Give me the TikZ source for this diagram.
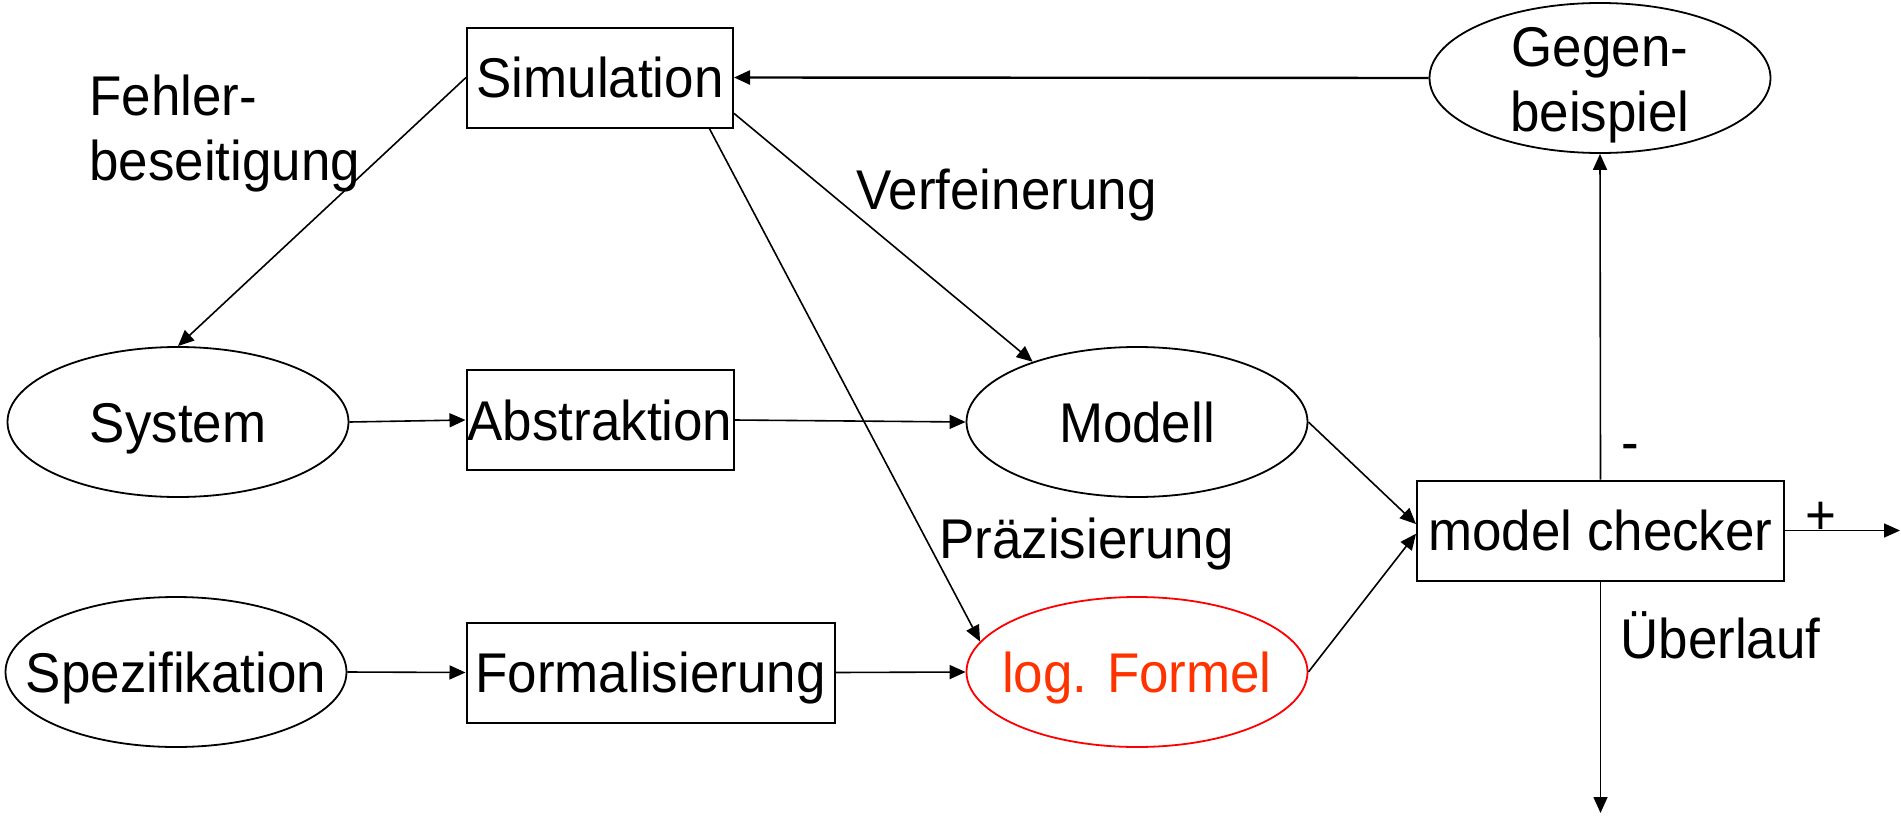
\documentclass[tikz,border=0pt]{standalone}
\usepackage{fontspec}
\setmainfont{Liberation Sans}[FakeStretch=0.945]
\usetikzlibrary{arrows.meta,shapes.geometric}
\definecolor{formelline}{RGB}{255,0,0}
\definecolor{formeltext}{RGB}{255,51,0}
\begin{document}
\begin{tikzpicture}[x=0.5pt,y=-0.5pt,
  every node/.style={font=\fontsize{28pt}{32.5pt}\selectfont},
  box/.style={draw, line width=1pt, rectangle, inner sep=0pt, text height=20pt, text depth=0pt, minimum height=50pt},
  oval/.style={draw, line width=0.9pt, ellipse, inner sep=0pt, text height=20pt, text depth=0pt, minimum width=170.5pt, minimum height=75pt},
  lbl/.style={inner sep=0pt, anchor=base west},
  conn/.style={line width=0.8pt, -{Triangle[length=8pt,width=7pt]}},
]
\useasboundingbox (0,0) rectangle (1901,819);

% process boxes
\node[box, minimum width=133pt] (sim) at (600,77.5) {Simulation};
\node[box, minimum width=133.5pt] (abs) at (600,420) {Abstraktion};
\node[box, minimum width=184pt] (form) at (650.5,672.5) {Formalisierung};
\node[box, minimum width=183.5pt] (mc) at (1600.5,530.5) {model checker};

% artefacts
\node[oval] (sys) at (178,422) {\makebox[0pt]{System}};
\node[oval] (spez) at (176,672) {\makebox[0pt]{Spezifikation}};
\node[oval] (modell) at (1137,422) {\makebox[0pt]{Modell}};
\node[oval, draw=formelline, text=formeltext] (formel) at (1137,672) {\makebox[0pt]{log. Formel}};
\node[oval] (gegen) at (1600,78) {};
\node[align=center, inner sep=0pt] (gegentext) at (1600,85) {Gegen-\\beispiel};

% free labels
\node[inner sep=0pt, align=left, anchor=west] (fehler) at (89,134) {Fehler-\\beseitigung};
\node[lbl] (verf) at (856,209) {Verfeinerung};
\node[lbl] (praez) at (939,558) {Präzisierung};
\node[lbl] (ueber) at (1620,658) {Überlauf};
\node[inner sep=0pt, anchor=base] (minus) at (1630,461) {-};
\node[inner sep=0pt, anchor=base] (plus) at (1821,534) {+};

% open ends
\coordinate (out) at (1900,530.5);
\coordinate (down) at (1600.5,813);

% connectors
\draw[conn, line width=1.2pt] (gegen.west) -- (sim.east);
\draw[conn] (sim.west) -- (sys.north);
\draw[conn] (sim.-15.6) -- (modell.150);
\draw[conn] (sim.-25.7) -- (formel.169);
\draw[conn] (sys.east) -- (abs.west);
\draw[conn] (abs.east) -- (modell.west);
\draw[conn] (spez.east) -- (form.west);
\draw[conn] (form.east) -- (formel.west);
\draw[conn] (modell.east) -- (mc.178.5);
\draw[conn] (formel.east) -- (mc.181.7);
\draw[conn] (mc.north) -- (gegen.south);
\draw[conn] (mc.east) -- (out);
\draw[conn] (mc.south) -- (down);
\end{tikzpicture}
\end{document}
